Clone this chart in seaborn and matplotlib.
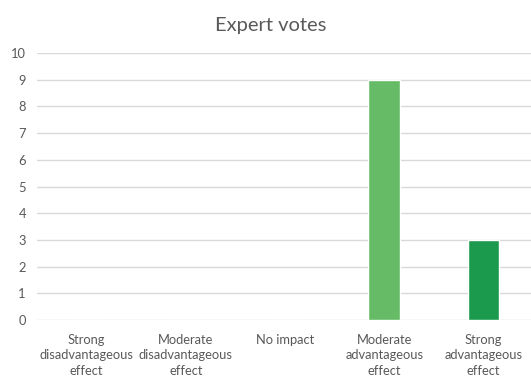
import matplotlib
matplotlib.use("Agg")
import matplotlib.pyplot as plt
import seaborn as sns
import pandas as pd

categories = ["Strong\ndisadvantageous\neffect", "Moderate\ndisadvantageous\neffect",
              "No impact", "Moderate\nadvantageous\neffect", "Strong\nadvantageous\neffect"]
votes = [0, 0, 0, 9, 3]
colors = ["#C00000", "#E46C0A", "#A6A6A6", "#66BB66", "#1B9A4E"]
y_ticks = list(range(0, 11))

sns.set_style("white")
plt.rcParams["font.family"] = ["Lato", "DejaVu Sans"]

df = pd.DataFrame({"category": categories, "votes": votes})

fig = plt.figure(figsize=(5.31, 3.78), dpi=100)
ax = fig.add_axes([37 / 531, 58 / 378, 496 / 531, 267 / 378])

sns.barplot(data=df, x="category", y="votes", hue="category", palette=colors,
            saturation=1, width=0.32, legend=False, ax=ax, zorder=3)

ax.set_ylim(0, 10)
ax.set_yticks(y_ticks)
ax.yaxis.grid(True, color="#D9D9D9", linewidth=1, zorder=0)
for s in ax.spines.values():
    s.set_visible(False)
ax.tick_params(axis="both", length=0, labelsize=9.3, colors="#595959", pad=8)
ax.tick_params(axis="x", pad=10)
for lbl in ax.get_xticklabels():
    lbl.set_linespacing(1.35)
    lbl.set_verticalalignment("top")
ax.set_xlabel("")
ax.set_ylabel("")

fig.text(0.51, 0.933, "Expert votes", ha="center", va="center", fontsize=14.5, color="#595959")

fig.savefig("out.png", dpi=100)
